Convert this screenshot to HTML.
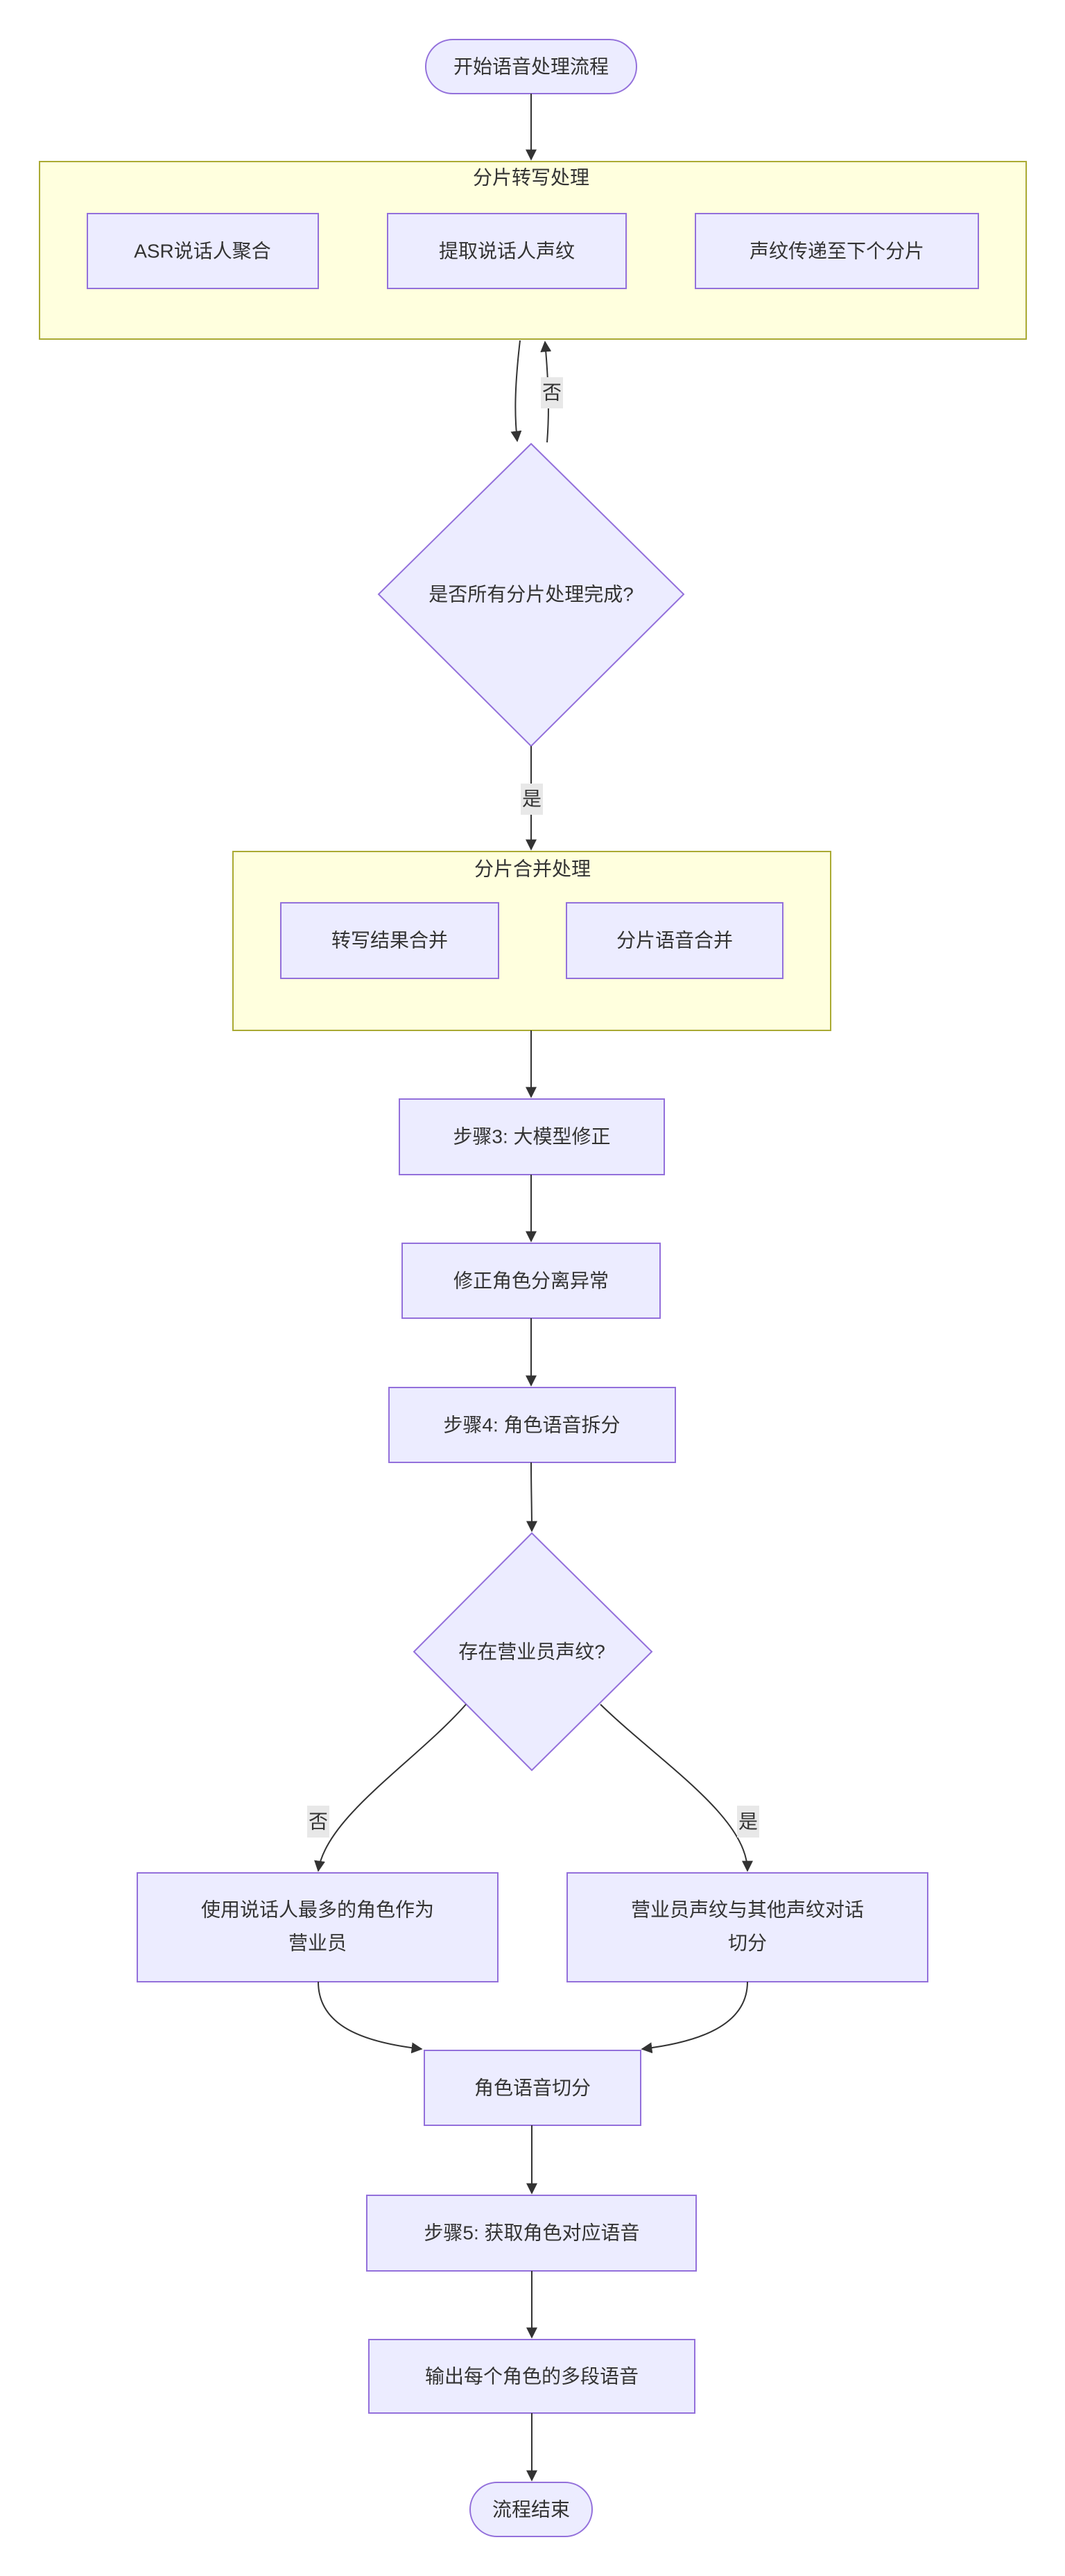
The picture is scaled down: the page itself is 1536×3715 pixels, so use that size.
<!DOCTYPE html>
<html><head><meta charset="utf-8"><style>
html,body{margin:0;padding:0;background:#fff;}
svg{display:block;}
text{font-family:"Liberation Sans","Noto Sans CJK SC",sans-serif;font-size:28px;fill:#333;text-anchor:middle;dominant-baseline:central;}
.n{fill:#ECECFF;stroke:#9370DB;stroke-width:2;}
.c{fill:#ffffde;stroke:#aaaa33;stroke-width:2;}
.e{fill:none;stroke:#333;stroke-width:2;}
.lb{fill:#e8e8e8;}
</style></head><body>
<svg width="1536" height="3715" viewBox="0 0 1536 3715" xmlns="http://www.w3.org/2000/svg">
<defs><marker id="a" viewBox="0 0 10 10" refX="9" refY="5" markerWidth="8" markerHeight="8" orient="auto-start-reverse"><path d="M0,0L10,5L0,10z" fill="#333"/></marker></defs>

<rect class="n" x="614" y="57" width="304" height="78" rx="39"/>
<text x="766" y="96">开始语音处理流程</text>
<path class="e" d="M766,135 L766,230" marker-end="url(#a)"/>

<rect class="c" x="57" y="233" width="1423" height="256"/>
<text x="766" y="256">分片转写处理</text>
<rect class="n" x="126" y="308" width="333" height="108"/>
<text x="292" y="362">ASR说话人聚合</text>
<rect class="n" x="559" y="308" width="344" height="108"/>
<text x="731" y="362">提取说话人声纹</text>
<rect class="n" x="1003" y="308" width="408" height="108"/>
<text x="1207" y="362">声纹传递至下个分片</text>

<path class="e" d="M750,491 C742,560 742,600 746,636" marker-end="url(#a)"/>
<path class="e" d="M789,638 C792,600 792,560 786,493" marker-end="url(#a)"/>
<rect class="lb" x="780" y="544" width="32" height="45"/>
<text x="796" y="566">否</text>

<polygon class="n" points="766,640 986,857 766,1076 546,857"/>
<text x="766" y="857">是否所有分片处理完成?</text>
<path class="e" d="M766,1076 L766,1225" marker-end="url(#a)"/>
<rect class="lb" x="751" y="1130" width="32" height="45"/>
<text x="767" y="1152">是</text>

<rect class="c" x="336" y="1228" width="862" height="258"/>
<text x="768" y="1253">分片合并处理</text>
<rect class="n" x="405" y="1302" width="314" height="109"/>
<text x="562" y="1356">转写结果合并</text>
<rect class="n" x="817" y="1302" width="312" height="109"/>
<text x="973" y="1356">分片语音合并</text>
<path class="e" d="M766,1486 L766,1582" marker-end="url(#a)"/>

<rect class="n" x="576" y="1585" width="382" height="109"/>
<text x="767" y="1639">步骤3: 大模型修正</text>
<path class="e" d="M766,1694 L766,1790" marker-end="url(#a)"/>

<rect class="n" x="580" y="1793" width="372" height="108"/>
<text x="766" y="1847">修正角色分离异常</text>
<path class="e" d="M766,1901 L766,1998" marker-end="url(#a)"/>

<rect class="n" x="561" y="2001" width="413" height="108"/>
<text x="767" y="2055">步骤4: 角色语音拆分</text>
<path class="e" d="M766,2109 C766,2150 767,2170 767,2208" marker-end="url(#a)"/>

<polygon class="n" points="767,2211 940,2382 767,2553 597,2382"/>
<text x="767" y="2382">存在营业员声纹?</text>

<path class="e" d="M672,2458 C600,2540 470,2620 459,2698" marker-end="url(#a)"/>
<path class="e" d="M866,2458 C950,2540 1078,2620 1078,2698" marker-end="url(#a)"/>
<rect class="lb" x="443" y="2604" width="32" height="46"/>
<text x="459" y="2627">否</text>
<rect class="lb" x="1063" y="2604" width="32" height="46"/>
<text x="1079" y="2627">是</text>

<rect class="n" x="198" y="2701" width="520" height="157"/>
<text x="458" y="2754">使用说话人最多的角色作为</text>
<text x="458" y="2802">营业员</text>
<rect class="n" x="818" y="2701" width="520" height="157"/>
<text x="1078" y="2754">营业员声纹与其他声纹对话</text>
<text x="1078" y="2802">切分</text>

<path class="e" d="M459,2858 C459,2920 520,2945 608,2955" marker-end="url(#a)"/>
<path class="e" d="M1078,2858 C1078,2920 1010,2945 926,2955" marker-end="url(#a)"/>

<rect class="n" x="612" y="2957" width="312" height="108"/>
<text x="768" y="3011">角色语音切分</text>
<path class="e" d="M767,3065 L767,3163" marker-end="url(#a)"/>

<rect class="n" x="529" y="3166" width="475" height="109"/>
<text x="767" y="3220">步骤5: 获取角色对应语音</text>
<path class="e" d="M767,3275 L767,3371" marker-end="url(#a)"/>

<rect class="n" x="532" y="3374" width="470" height="106"/>
<text x="767" y="3427">输出每个角色的多段语音</text>
<path class="e" d="M767,3480 L767,3577" marker-end="url(#a)"/>

<rect class="n" x="678" y="3580" width="176" height="78" rx="39"/>
<text x="766" y="3619">流程结束</text>
</svg>
</body></html>
